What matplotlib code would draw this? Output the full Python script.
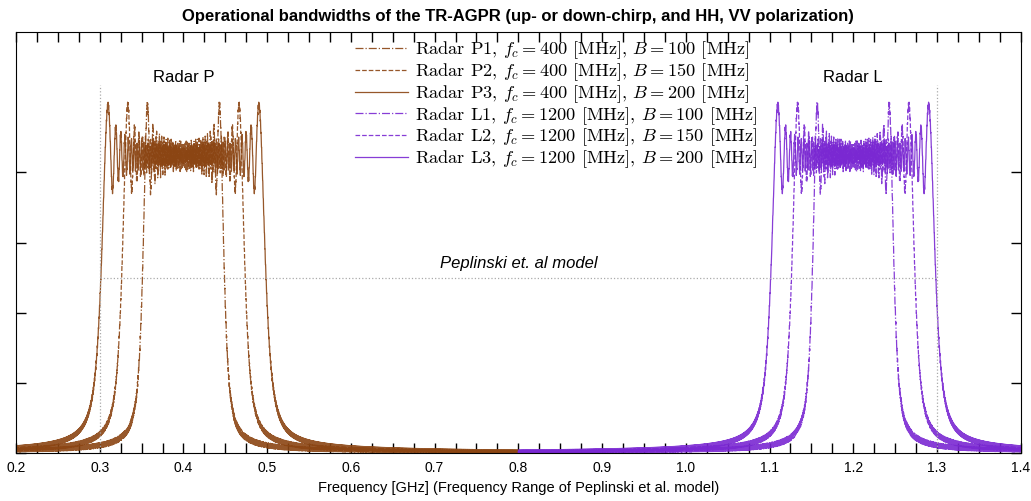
import numpy as np
import matplotlib.pyplot as plt
from matplotlib.ticker import MultipleLocator

plt.rcParams['font.family'] = ['Liberation Sans', 'DejaVu Sans']
plt.rcParams['mathtext.fontset'] = 'cm'

# radar settings (MHz) and shared pulse length (us)
radar_names = ['P1', 'P2', 'P3', 'L1', 'L2', 'L3']
fc_mhz = [400, 400, 400, 1200, 1200, 1200]
bw_mhz = [100, 150, 200, 100, 150, 200]
pulse_us = 1.5
styles = ['-.', '--', '-', '-.', '--', '-']
colors = ['#8b4513'] * 3 + ['#7a28d2'] * 3
band_ghz = [(0.2, 0.8)] * 3 + [(0.8, 1.4)] * 3

fs = 4e9
nfft = 2 ** 17


def chirp_spectrum(fc, bw):
    t = np.arange(0, pulse_us * 1e-6, 1 / fs)
    k = bw / (pulse_us * 1e-6)
    s = np.exp(2j * np.pi * ((fc - bw / 2) * t + 0.5 * k * t ** 2))
    S = np.abs(np.fft.fft(s, nfft))
    f = np.fft.fftfreq(nfft, 1 / fs)
    order = np.argsort(f)
    return f[order] / 1e9, S[order] / S.max()


fig = plt.figure(figsize=(10.31, 5.01), dpi=100)
ax = fig.add_axes([0.0155, 0.0958, 0.9745, 0.8403])

for name, fc, bw, ls, col, (lo, hi) in zip(radar_names, fc_mhz, bw_mhz, styles, colors, band_ghz):
    f, amp = chirp_spectrum(fc * 1e6, bw * 1e6)
    m = (f >= lo) & (f <= hi)
    label = 'Radar %s, $f_c = %d$ [MHz], $B = %d$ [MHz]' % (name, fc, bw)
    ax.plot(f[m], amp[m], ls, color=col, lw=0.9, alpha=0.9, label=label)

# frequency range of the Peplinski model
ax.plot([0.3, 0.3], [0, 1.05], ':', color='#aaaaaa', lw=0.9)
ax.plot([1.3, 1.3], [0, 1.05], ':', color='#aaaaaa', lw=0.9)
ax.plot([0.3, 1.3], [0.5, 0.5], ':', color='#aaaaaa', lw=0.9)
ax.text(0.8, 0.54, 'Peplinski et. al model', style='italic', fontsize=12,
        ha='center', va='center')
ax.text(0.4, 1.07, 'Radar P', fontsize=12, ha='center', va='center')
ax.text(1.2, 1.07, 'Radar L', fontsize=12, ha='center', va='center')

ax.set_xlim(0.2, 1.4)
ax.set_ylim(0, 1.2)
ax.set_xticks(np.arange(0.2, 1.41, 0.1))
ax.set_xticklabels(['%.1f' % v for v in np.arange(0.2, 1.41, 0.1)], fontsize=10)
ax.xaxis.set_minor_locator(MultipleLocator(0.025))
ax.set_yticks([0, 0.2, 0.4, 0.6, 0.8])
ax.set_yticklabels([])
ax.tick_params(which='both', direction='in', top=True, right=True, length=7, width=1)
ax.tick_params(axis='x', pad=6)

ax.set_xlabel('Frequency [GHz] (Frequency Range of Peplinski et al. model)', fontsize=10.5)
ax.set_title('Operational bandwidths of the TR-AGPR (up- or down-chirp, and HH, VV polarization)',
             fontsize=12, fontweight='bold', pad=8)

ax.legend(loc='upper center', bbox_to_anchor=(0.538, 1.01), frameon=False,
          prop={'family': 'cmr10', 'size': 13.2}, labelspacing=0.0,
          handlelength=2.9, handletextpad=0.4, borderpad=0.15)

fig.savefig('out.png', dpi=100)
